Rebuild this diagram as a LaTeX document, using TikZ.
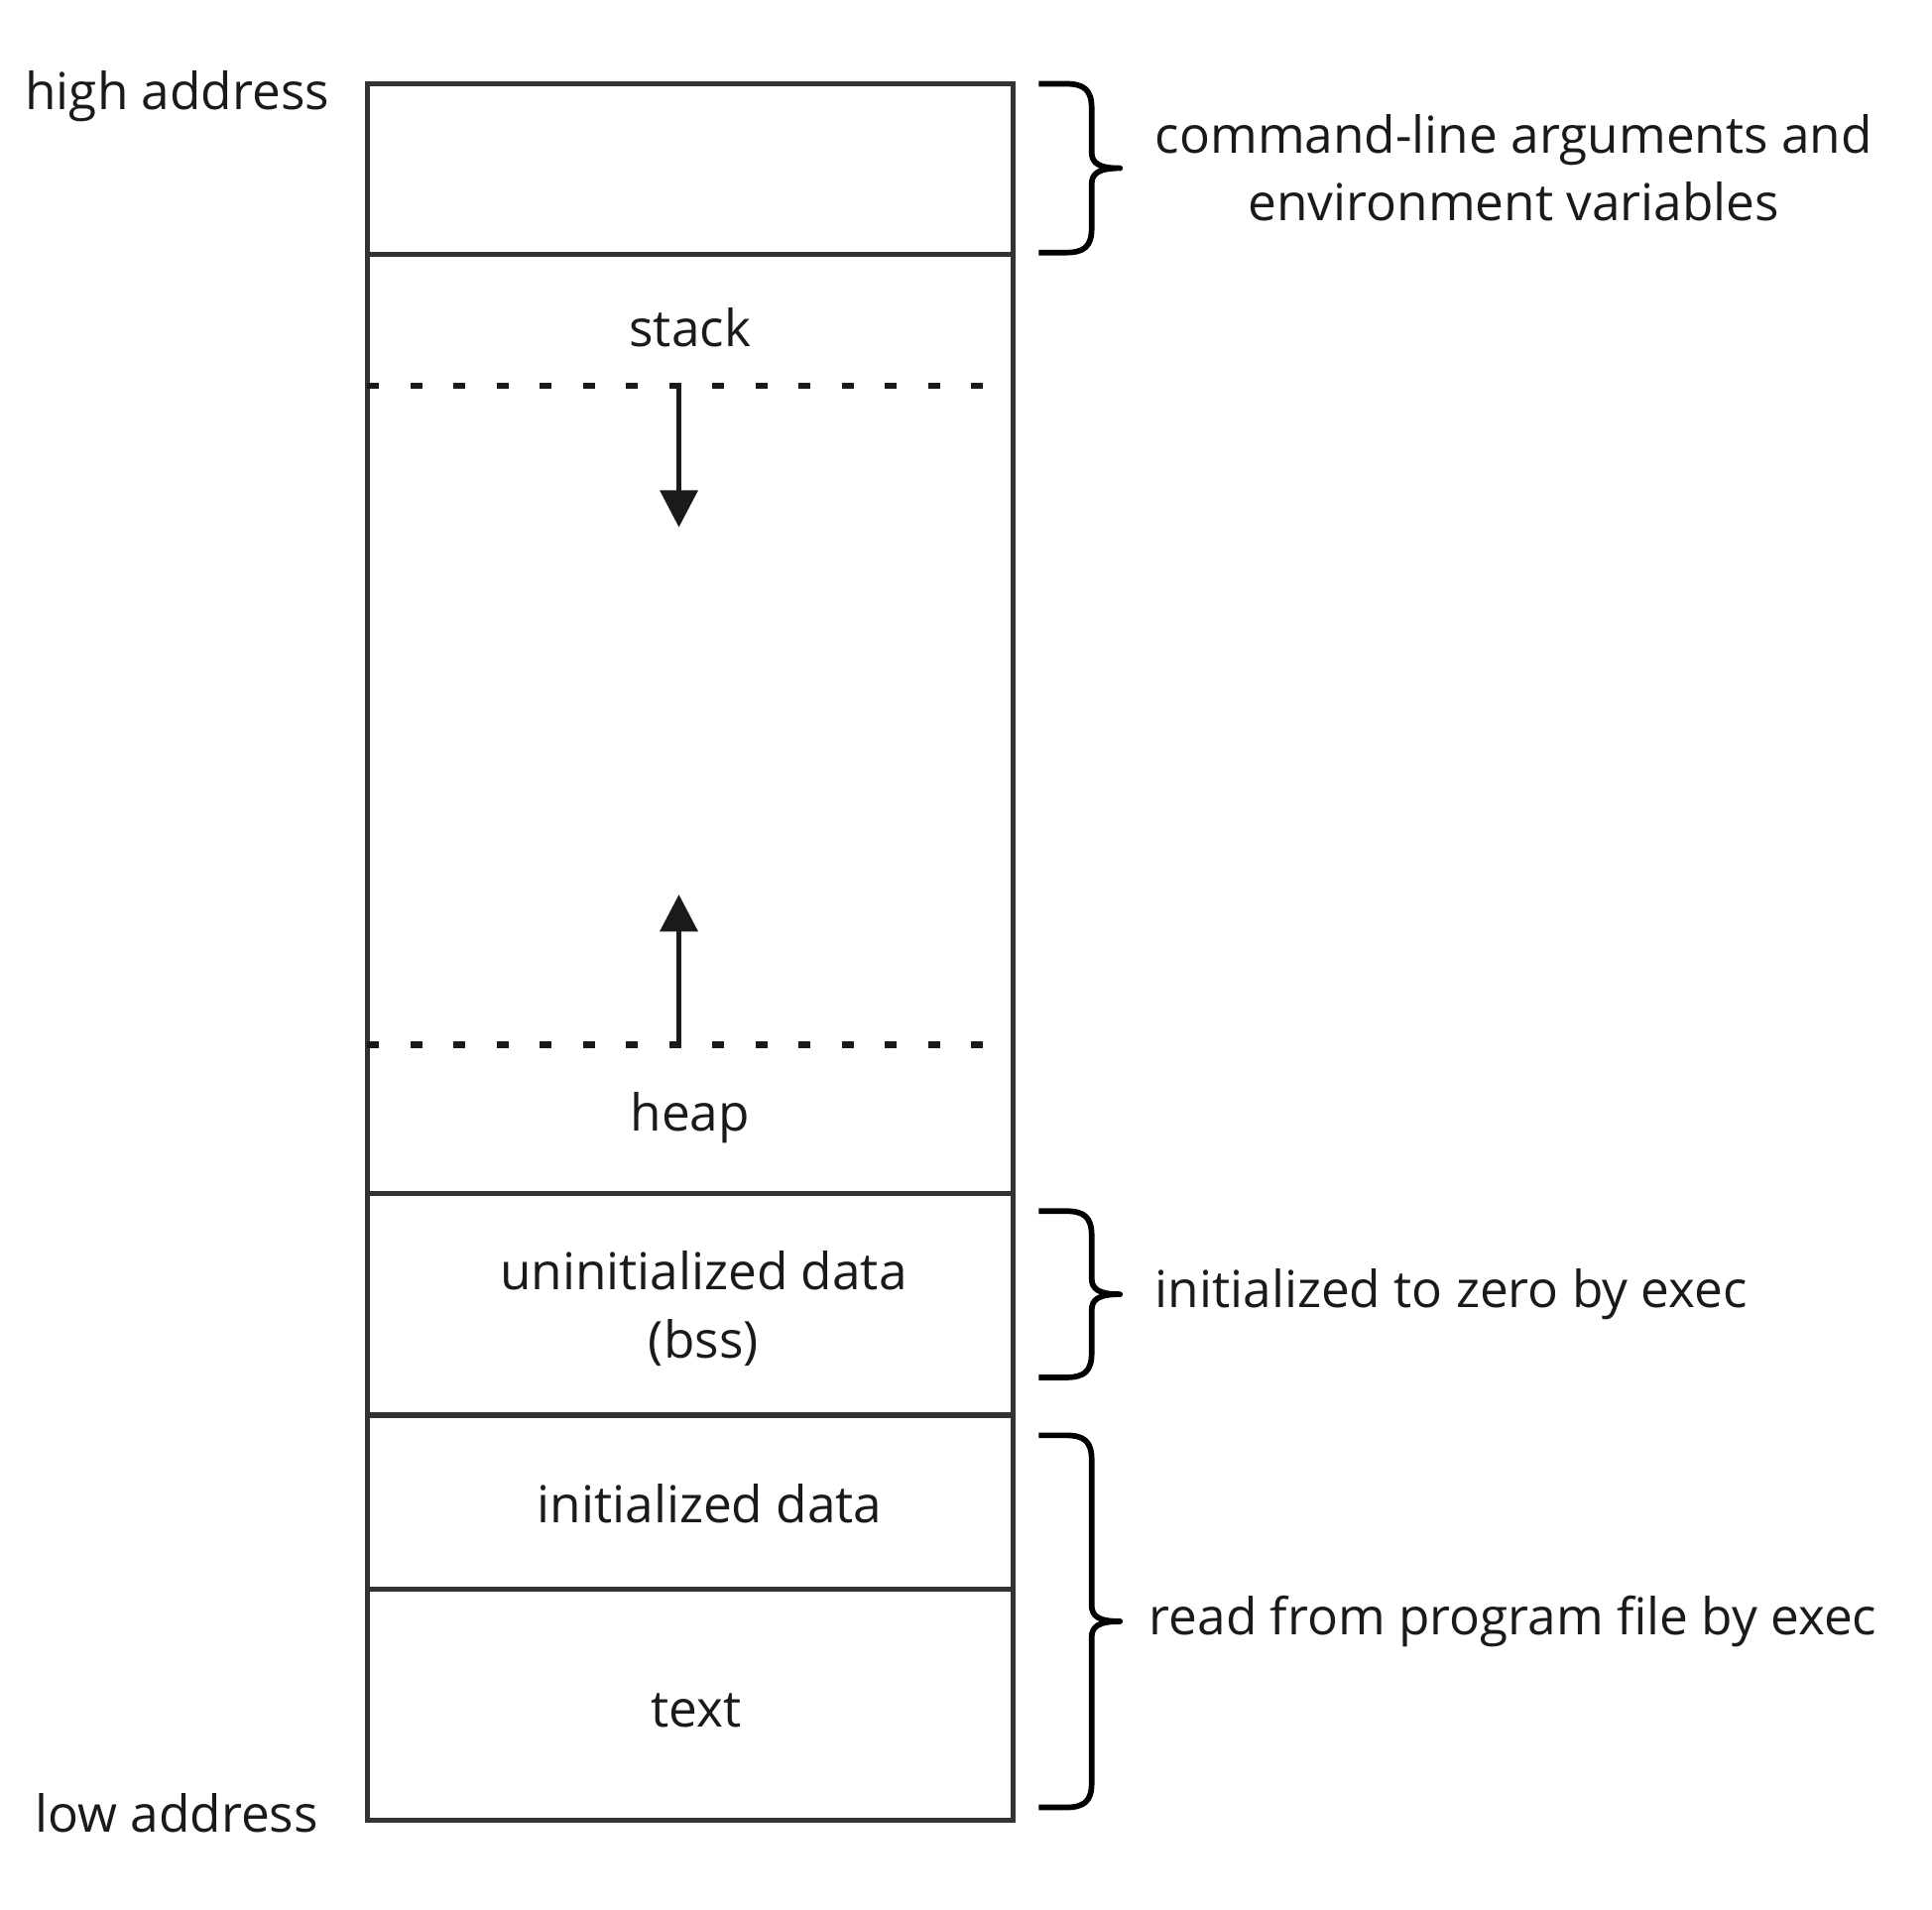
\documentclass[tikz,border=0pt]{standalone}
\usepackage{fontspec}
\setmainfont{Open Sans}
\usepackage{xcolor}
\usepackage{tikz}
\definecolor{boxgray}{RGB}{51, 51, 51}
\definecolor{inkblack}{RGB}{26, 26, 26}
\usetikzlibrary{arrows.meta, positioning}

% curly brace on the right of the box: top y, bottom y, name of its tip
\newcommand{\addrbrace}[3]{%
    \coordinate (#3) at (909,{(#1+#2)/2});
    \draw[bracepath] (843,#1) -- (865,#1) .. controls (880,#1) and (886,#1+5) .. (886,#1+20)
        -- (886,{(#1+#2)/2-13}) .. controls (886,{(#1+#2)/2-4}) and (892,{(#1+#2)/2}) .. (#3)
        .. controls (892,{(#1+#2)/2}) and (886,{(#1+#2)/2+4}) .. (886,{(#1+#2)/2+13})
        -- (886,#2-20) .. controls (886,#2-5) and (880,#2) .. (865,#2) -- (843,#2);
}

\begin{document}
\begin{tikzpicture}[
        x=0.01cm, y=-0.01cm,
        node distance=0cm,
        segment/.style={rectangle, draw=boxgray, line width=1.15pt, minimum width=5.24cm, outer sep=0pt, inner sep=0pt},
        segtext/.style={font=\fontsize{11.75}{15.6}\selectfont, text=inkblack, align=center, inner sep=0pt},
        limitline/.style={inkblack, line width=1.4pt, dash pattern=on 0.096cm off 0.254cm},
        growarrow/.style={-{Triangle[width=0.3cm, length=0.3cm]}, line width=1.3pt, inkblack},
        bracepath/.style={line width=1.3pt, black, line join=round}
    ]
        \useasboundingbox (0,0) rectangle (1568,1550);

        % Memory segments
        \node[segment, minimum height=1.38cm, anchor=north west] (args) at (298,68) {};
        \node[segment, minimum height=7.62cm, below=of args] (dyn) {};
        \node[segment, minimum height=1.80cm, below=of dyn] (bss) {};
        \node[segment, minimum height=1.41cm, below=of bss] (data) {};
        \node[segment, minimum height=1.88cm, below=of data] (code) {};

        % Segment names
        \node[segtext, anchor=base] (stackname) at (560,281) {stack};
        \node[segtext, anchor=base] (heapname) at (560,918) {heap};
        \node[segtext, anchor=base] (bssname) at (571,1102) {uninitialized data\\(bss)};
        \node[segtext, anchor=base] (dataname) at (576,1236) {initialized data};
        \node[segtext, anchor=base] (codename) at (565,1402) {text};

        % Stack and heap limits
        \coordinate (stackL) at (298,313);
        \coordinate (stackR) at (806,313);
        \coordinate (heapL) at (298,848);
        \coordinate (heapR) at (806,848);
        \draw[limitline] (stackL) -- (stackR);
        \draw[limitline] (heapL) -- (heapR);

        % Growth arrows
        \coordinate (stacktop) at (551,313);
        \coordinate (stackgo) at (551,428);
        \coordinate (heaptop) at (551,846);
        \coordinate (heapgo) at (551,726);
        \draw[growarrow] (stacktop) -- (stackgo);
        \draw[growarrow] (heaptop) -- (heapgo);

        % Addresses
        \node[segtext, anchor=base east] (high) at (268,89) {high address};
        \node[segtext, anchor=base east] (low) at (259,1487) {low address};

        % Braces
        \addrbrace{68}{205}{argtip}
        \addrbrace{983}{1118}{bsstip}
        \addrbrace{1165}{1467}{filetip}

        \node[segtext, right=0.28cm of argtip] (argnote) {command-line arguments and\\environment variables};
        \node[segtext, right=0.28cm of bsstip] (bssnote) {initialized to zero by exec};
        \node[segtext, right=0.23cm of filetip] (filenote) {read from program file by exec};
    \end{tikzpicture}
\end{document}
